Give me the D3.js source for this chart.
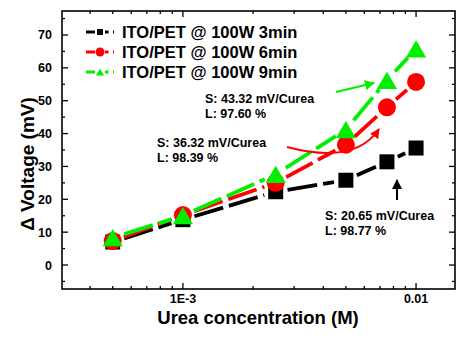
<!DOCTYPE html>
<meta charset="utf-8">
<title>Delta Voltage vs Urea concentration</title>
<style>
body { margin: 0; background: #fff; }
svg { font-family: "Liberation Sans", Arial, sans-serif; font-weight: bold; }
.lbl { font-size: 12.5px; }
.note { font-size: 12.5px; }
</style>
<svg width="456" height="341"></svg>
<script src="https://d3js.org/d3.v7.min.js"></script>
<script>

var conc = [5e-4, 1e-3, 2.5e-3, 5e-3, 7.5e-3, 1e-2];
var v3min = [7, 13.8, 22.3, 25.8, 31.4, 35.6];
var v6min = [7.3, 15.2, 25, 36.6, 48, 55.7];
var v9min = [8.3, 15, 27.6, 41.2, 56.2, 65.8];
var seriesNames = ["ITO/PET @ 100W 3min", "ITO/PET @ 100W 6min", "ITO/PET @ 100W 9min"];
var yTicks = [0, 10, 20, 30, 40, 50, 60, 70];
var xTickLabels = ["1E-3", "0.01"];
var xTickValues = [1e-3, 1e-2];

var svg = d3.select("svg");

var pLeft = 62, pRight = 455, pTop = 11, pBottom = 289;

var x = d3.scaleLog().domain([3.03e-4, 0.01469]).range([pLeft, pRight]);
var y = d3.scaleLinear().domain([-7.3, 77.3]).range([pBottom, pTop]);

var series = [
  {name: seriesNames[0], values: v3min, color: "#000000", shape: "square"},
  {name: seriesNames[1], values: v6min, color: "#ff0000", shape: "circle"},
  {name: seriesNames[2], values: v9min, color: "#00ee00", shape: "triangle"}
];

// minor ticks on the log axis
var minorX = [];
[1e-4, 1e-3, 1e-2].forEach(function(dec) {
  for (var k = 2; k <= 9; k++) {
    var v = dec * k;
    if (v > x.domain()[0] && v < x.domain()[1]) minorX.push(v);
  }
});
var minorY = d3.range(-5, 77, 5).filter(function(v) { return v % 10 !== 0; });

var axes = svg.append("g").attr("stroke", "#000").attr("stroke-width", 1.3);

// frame
axes.append("rect")
    .attr("x", pLeft).attr("y", pTop)
    .attr("width", pRight - pLeft).attr("height", pBottom - pTop)
    .attr("fill", "none").attr("stroke-width", 1.6);

// x ticks (bottom + top, inward)
xTickValues.forEach(function(v) {
  axes.append("line").attr("x1", x(v)).attr("x2", x(v)).attr("y1", pBottom).attr("y2", pBottom - 6);
  axes.append("line").attr("x1", x(v)).attr("x2", x(v)).attr("y1", pTop).attr("y2", pTop + 6);
});
minorX.forEach(function(v) {
  axes.append("line").attr("x1", x(v)).attr("x2", x(v)).attr("y1", pBottom).attr("y2", pBottom - 3);
  axes.append("line").attr("x1", x(v)).attr("x2", x(v)).attr("y1", pTop).attr("y2", pTop + 3);
});

// y ticks (left + right, inward)
yTicks.forEach(function(v) {
  axes.append("line").attr("x1", pLeft).attr("x2", pLeft + 6).attr("y1", y(v)).attr("y2", y(v));
  axes.append("line").attr("x1", pRight).attr("x2", pRight - 6).attr("y1", y(v)).attr("y2", y(v));
});
minorY.forEach(function(v) {
  axes.append("line").attr("x1", pLeft).attr("x2", pLeft + 3).attr("y1", y(v)).attr("y2", y(v));
  axes.append("line").attr("x1", pRight).attr("x2", pRight - 3).attr("y1", y(v)).attr("y2", y(v));
});

// tick labels
svg.append("g").selectAll("text")
  .data(yTicks)
  .enter().append("text")
    .attr("class", "lbl")
    .attr("x", pLeft - 10)
    .attr("y", function(d) { return y(d); })
    .attr("dy", "0.36em")
    .attr("text-anchor", "end")
    .text(function(d) { return d; });

svg.append("g").selectAll("text")
  .data(xTickValues)
  .enter().append("text")
    .attr("class", "lbl")
    .attr("x", function(d) { return x(d); })
    .attr("y", pBottom + 14)
    .attr("text-anchor", "middle")
    .text(function(d, i) { return xTickLabels[i]; });

// axis titles
svg.append("text")
    .attr("x", 258).attr("y", 324)
    .attr("text-anchor", "middle")
    .style("font-size", "18.5px")
    .text("Urea concentration (M)");

svg.append("text")
    .attr("transform", "translate(34,164) rotate(-90)")
    .attr("text-anchor", "middle")
    .style("font-size", "19px")
    .text("\u0394 Voltage (mV)");

function drawMarker(g, shape, cx, cy, s, color) {
  if (shape === "square") {
    g.append("rect").attr("x", cx - s / 2).attr("y", cy - s / 2)
      .attr("width", s).attr("height", s).attr("fill", color);
  } else if (shape === "circle") {
    g.append("circle").attr("cx", cx).attr("cy", cy).attr("r", s / 2 + 1.5).attr("fill", color);
  } else {
    var h = s * 1.15, w = s * 1.35;
    g.append("path")
      .attr("d", "M" + cx + "," + (cy - h / 2) + "L" + (cx + w / 2) + "," + (cy + h / 2) + "L" + (cx - w / 2) + "," + (cy + h / 2) + "Z")
      .attr("fill", color);
  }
}

// series: dashed segments with gap to symbol, then symbols
var gap = 12;
series.forEach(function(s) {
  var g = svg.append("g");
  for (var i = 0; i < conc.length - 1; i++) {
    var x1 = x(conc[i]), y1 = y(s.values[i]);
    var x2 = x(conc[i + 1]), y2 = y(s.values[i + 1]);
    var dx = x2 - x1, dy = y2 - y1, len = Math.sqrt(dx * dx + dy * dy);
    if (len <= 2 * gap) continue;
    var ux = dx / len, uy = dy / len;
    g.append("line")
      .attr("x1", x1 + ux * gap).attr("y1", y1 + uy * gap)
      .attr("x2", x2 - ux * gap).attr("y2", y2 - uy * gap)
      .attr("stroke", s.color)
      .attr("stroke-width", 3.8)
      .attr("stroke-dasharray", "30,6");
  }
  conc.forEach(function(c, i) {
    drawMarker(g, s.shape, x(c), y(s.values[i]), 15, s.color);
  });
});

// legend
var legendY = [32, 52, 72];
series.forEach(function(s, i) {
  var g = svg.append("g");
  g.append("line")
    .attr("x1", 86).attr("x2", 114)
    .attr("y1", legendY[i]).attr("y2", legendY[i])
    .attr("stroke", s.color).attr("stroke-width", 3.2)
    .attr("stroke-dasharray", "9,4.5");
  g.append("rect").attr("x", 95).attr("y", legendY[i] - 4).attr("width", 10).attr("height", 8).attr("fill", "#fff");
  drawMarker(g, s.shape, 100, legendY[i], 6, s.color);
  g.append("text")
    .attr("x", 122).attr("y", legendY[i])
    .attr("dy", "0.36em")
    .style("font-size", "16.5px")
    .text(s.name);
});

// annotations
var notes = [
  {x: 205, y: 98, lines: ["S: 43.32 mV/Curea", "L: 97.60 %"]},
  {x: 157, y: 142, lines: ["S: 36.32 mV/Curea", "L: 98.39 %"]},
  {x: 325, y: 215, lines: ["S: 20.65 mV/Curea", "L: 98.77 %"]}
];
notes.forEach(function(n) {
  n.lines.forEach(function(t, j) {
    svg.append("text").attr("class", "note")
      .attr("x", n.x).attr("y", n.y + j * 15.6)
      .attr("dy", "0.36em")
      .text(t);
  });
});

var defs = svg.append("defs");
[["arrG", "#00ee00"], ["arrR", "#ff0000"], ["arrK", "#000000"]].forEach(function(a) {
  defs.append("marker")
    .attr("id", a[0])
    .attr("viewBox", "0 0 10 10")
    .attr("refX", 9).attr("refY", 5)
    .attr("markerWidth", 5).attr("markerHeight", 5)
    .attr("markerUnits", "strokeWidth")
    .attr("orient", "auto")
    .append("path").attr("d", "M0,0L10,5L0,10Z").attr("fill", a[1]);
});

svg.append("line")
    .attr("x1", 336).attr("y1", 92).attr("x2", 374).attr("y2", 83)
    .attr("stroke", "#00ee00").attr("stroke-width", 2)
    .attr("marker-end", "url(#arrG)");

svg.append("path")
    .attr("d", "M287,147 Q355,165 379,129")
    .attr("fill", "none")
    .attr("stroke", "#ff0000").attr("stroke-width", 2)
    .attr("marker-end", "url(#arrR)");

svg.append("line")
    .attr("x1", 397).attr("y1", 200).attr("x2", 397).attr("y2", 180)
    .attr("stroke", "#000").attr("stroke-width", 2)
    .attr("marker-end", "url(#arrK)");

</script>
